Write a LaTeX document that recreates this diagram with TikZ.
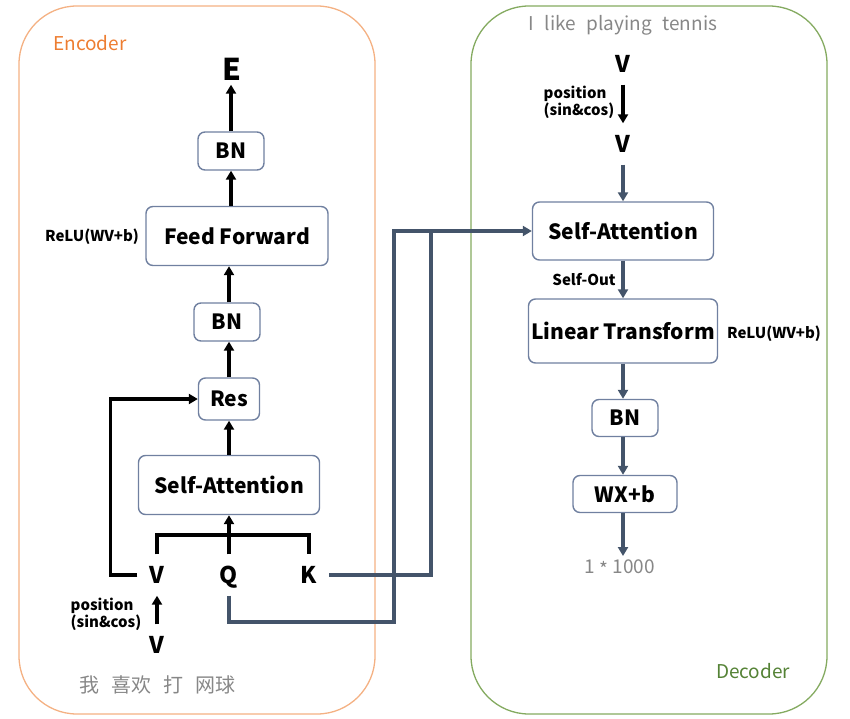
\documentclass[tikz,border=0pt]{standalone}
\usepackage{fontspec}
\setmainfont{Noto Sans CJK SC}
\usetikzlibrary{arrows.meta}
\definecolor{encline}{RGB}{244,177,131}
\definecolor{enctext}{RGB}{237,125,49}
\definecolor{decline}{RGB}{132,170,96}
\definecolor{dectext}{RGB}{84,130,53}
\definecolor{boxline}{RGB}{112,128,160}
\definecolor{slate}{RGB}{68,84,106}
\definecolor{greytext}{RGB}{135,135,135}
\tikzset{
  block/.style={draw=boxline, line width=1.4pt, rounded corners=7pt, fill=white,
    font=\bfseries\fontsize{21}{25}\selectfont, inner sep=0pt},
  sym/.style={font=\bfseries\fontsize{23}{27}\selectfont, inner xsep=12pt, inner ysep=12pt,
    text height=17pt, text depth=0pt},
  lbl/.style={font=\bfseries\fontsize{15}{17}\selectfont, align=left},
  blackarrow/.style={line width=3.3pt, -{Triangle[width=10pt,length=9pt]}},
  blackline/.style={line width=3.3pt},
  slatearrow/.style={draw=slate, line width=3.3pt, -{Triangle[width=10pt,length=9pt]}},
  slateline/.style={draw=slate, line width=3.3pt}
}
\begin{document}
\begin{tikzpicture}[x=1pt, y=-1pt]
    \useasboundingbox (0,0) rectangle (850,719);

    % Frames
    \draw[encline, line width=1.3pt, rounded corners=58pt] (19,6) rectangle (375,714);
    \draw[decline, line width=1.3pt, rounded corners=58pt] (471,6) rectangle (827,714);
    \node[enctext, font=\fontsize{19}{22}\selectfont] (enc) at (90,43) {Encoder};
    \node[dectext, font=\fontsize{19}{22}\selectfont] (dec) at (753,671) {Decoder};

    % Encoder
    \node[sym, font=\bfseries\fontsize{30}{34}\selectfont, inner ysep=4pt] (e) at (232,72) {E};
    \node[block, minimum width=66, minimum height=38] (bnA) at (231,151) {BN};
    \node[block, minimum width=182, minimum height=59] (ff) at (237,236) {Feed Forward};
    \node[lbl] (reluA) at (92,237) {ReLU(WV+b)};
    \node[block, minimum width=66, minimum height=38] (bnB) at (227,322) {BN};
    \node[block, minimum width=61, minimum height=42] (res) at (229,399) {Res};
    \node[block, minimum width=181, minimum height=59] (saA) at (229,485) {Self-Attention};
    \node[sym] (vA) at (157,575) {V};
    \node[sym] (qA) at (229,575) {Q};
    \node[sym] (kA) at (309,575) {K};
    \node[sym] (vB) at (157,645) {V};
    \node[lbl] (posA) at (106,614) {position\\(sin\&cos)};
    \node[greytext, font=\fontsize{20}{24}\selectfont] (zh) at (157,685)
        {我\hspace{0.6em}喜欢\hspace{0.6em}打\hspace{0.6em}网球};

    \coordinate (jn) at (229,535);
    \draw[blackline] (vA.north) |- (jn) -| (kA.north);
    \draw[blackarrow] (qA.north) -- (saA.south);
    \draw[blackarrow] (saA.north) -- (res.south);
    \draw[blackarrow] (res.north) -- (res.north |- bnB.south);
    \draw[blackarrow] (bnB.north -| res.north) -- (res.north |- ff.south);
    \draw[blackarrow] (ff.north -| bnA.south) -- (bnA.south);
    \draw[blackarrow] (bnA.north) -- (bnA.north |- e.south);
    \draw[blackarrow] (vA.west) -- ++(-27,0) |- (res.west);
    \draw[blackarrow] (vB.north) -- (vA.south);

    % Decoder
    \node[greytext, font=\fontsize{19}{22}\selectfont] (en) at (623,25)
        {I\hspace{0.55em}like\hspace{0.55em}playing\hspace{0.55em}tennis};
    \node[sym] (vC) at (623,64) {V};
    \node[sym] (vD) at (623,144) {V};
    \node[lbl] (posB) at (579,102) {position\\(sin\&cos)};
    \node[block, minimum width=181, minimum height=58] (saB) at (623,231) {Self-Attention};
    \node[lbl] (out) at (584,280) {Self-Out};
    \node[block, minimum width=189, minimum height=64] (lt) at (623,331) {Linear Transform};
    \node[lbl] (reluB) at (774,334) {ReLU(WV+b)};
    \node[block, minimum width=66, minimum height=37] (bnC) at (625,418) {BN};
    \node[block, minimum width=104, minimum height=37] (wx) at (625,494) {WX+b};
    \node[greytext, font=\fontsize{19}{22}\selectfont] (dim) at (620,568)
        {1 \raisebox{-0.3ex}{*} 1000};

    \draw[blackarrow] (vC.south) -- (vD.north);
    \draw[slatearrow] (vD.south) -- (saB.north);
    \draw[slatearrow] (saB.south) -- (lt.north);
    \draw[slatearrow] (lt.south) -- (lt.south |- bnC.north);
    \draw[slatearrow] (bnC.south -| lt.south) -- (lt.south |- wx.north);
    \draw[slatearrow] (wx.south -| lt.south) -- (lt.south |- dim.north);

    % Encoder to decoder
    \coordinate (qturn) at (394,622);
    \coordinate (kturn) at (431,231);
    \draw[slatearrow] (qA.south) |- (qturn) |- (saB.west);
    \draw[slateline] (kA.east) -| (kturn);
\end{tikzpicture}
\end{document}
